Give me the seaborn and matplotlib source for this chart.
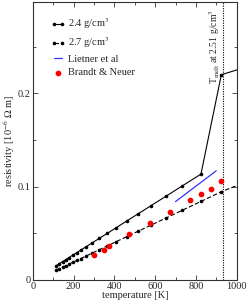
#!/usr/bin/env python3
"""Resistivity vs temperature for two densities, with literature data."""

import pandas as pd
import matplotlib
matplotlib.use("Agg")
import matplotlib.pyplot as plt
from matplotlib.ticker import MultipleLocator, FuncFormatter
import seaborn as sns

# 2.4 g/cm^3 (solid line), last point lies past the axis edge
temp_24 = [115, 130, 145, 160, 175, 195, 215, 235, 260, 290, 325, 365,
           410, 460, 517, 580, 652, 733, 825, 925, 1050]
rho_24 = [0.0155, 0.0176, 0.0197, 0.0217, 0.0238, 0.0266, 0.0293, 0.0321,
          0.0355, 0.0397, 0.0445, 0.0500, 0.0562, 0.0632, 0.0710, 0.0797,
          0.0896, 0.1008, 0.1135, 0.2200, 0.2285]

# 2.7 g/cm^3 (dashed line)
temp_27 = [115, 130, 145, 160, 175, 195, 215, 235, 260, 290, 325, 365,
           410, 460, 517, 580, 652, 733, 825, 925, 1050]
rho_27 = [0.0106, 0.0122, 0.0137, 0.0153, 0.0168, 0.0189, 0.0210, 0.0230,
          0.0256, 0.0287, 0.0324, 0.0365, 0.0412, 0.0464, 0.0523, 0.0588,
          0.0663, 0.0747, 0.0842, 0.0946, 0.1055]

# Lietner et al
temp_lietner = [700, 900]
rho_lietner = [0.084, 0.117]

# Brandt & Neuer
temp_brandt = [298, 350, 375, 473, 573, 673, 773, 823, 873, 923]
rho_brandt = [0.027, 0.032, 0.036, 0.049, 0.061, 0.073, 0.086, 0.092, 0.0975, 0.106]

t_melt = 933

sns.set_style("ticks")
plt.rcParams['font.family'] = ['Liberation Serif', 'DejaVu Serif']
plt.rcParams['mathtext.fontset'] = 'stix'
plt.rcParams['xtick.direction'] = 'in'
plt.rcParams['ytick.direction'] = 'in'

fig = plt.figure(figsize=(2.48, 3.03), dpi=100)
ax = fig.add_axes([0.133, 0.076, 0.821, 0.919])

df24 = pd.DataFrame({'T': temp_24, 'rho': rho_24})
df27 = pd.DataFrame({'T': temp_27, 'rho': rho_27})
dfl = pd.DataFrame({'T': temp_lietner, 'rho': rho_lietner})
dfb = pd.DataFrame({'T': temp_brandt, 'rho': rho_brandt})

sns.lineplot(data=df24, x='T', y='rho', ax=ax, color='black', lw=0.8,
             marker='o', markersize=2.6, markeredgewidth=0, sort=False,
             label='2.4 g/cm$^3$')
sns.lineplot(data=df27, x='T', y='rho', ax=ax, color='black', lw=0.8,
             marker='o', markersize=2.6, markeredgewidth=0, sort=False,
             dashes=False, linestyle=(0, (4, 2)), label='2.7 g/cm$^3$')
sns.lineplot(data=dfl, x='T', y='rho', ax=ax, color='#3333ff', lw=0.9,
             label='Lietner et al')
sns.scatterplot(data=dfb, x='T', y='rho', ax=ax, color='red', s=17,
                linewidth=0, label='Brandt & Neuer', zorder=5)

ax.axvline(t_melt, color='black', lw=0.8, ls=(0, (1, 1.2)))
ax.text(890, 0.21, 'T$_{\\rm melt}$ at 2.51 g/cm$^3$', rotation=90,
        ha='center', va='bottom', fontsize=7)

ax.set_xlim(0, 1000)
ax.set_ylim(0, 0.2985)
ax.xaxis.set_major_locator(MultipleLocator(200))
ax.xaxis.set_minor_locator(MultipleLocator(100))
ax.yaxis.set_major_locator(MultipleLocator(0.1))
ax.yaxis.set_minor_locator(MultipleLocator(0.05))
ax.yaxis.set_major_formatter(FuncFormatter(lambda v, p: '0' if abs(v) < 1e-9 else f'{v:.1f}'))
ax.tick_params(which='both', top=True, right=True, labelsize=7.5,
               pad=1.5, width=0.6, color='#333333')
ax.tick_params(which='major', length=3.5)
ax.tick_params(which='minor', length=2)
for s in ax.spines.values():
    s.set_linewidth(0.8)
    s.set_color('#333333')

ax.set_xlabel('temperature [K]', fontsize=7.5, labelpad=0)
ax.set_ylabel('resistivity [10$^{-6}$ $\\Omega$ m]', fontsize=7.5, labelpad=1)

leg = ax.legend(loc='upper left', bbox_to_anchor=(0.04, 0.98), frameon=False,
                fontsize=7.5, handlelength=1.4, handletextpad=0.3,
                labelspacing=0.4, numpoints=2)

fig.savefig('out.png', dpi=100)
